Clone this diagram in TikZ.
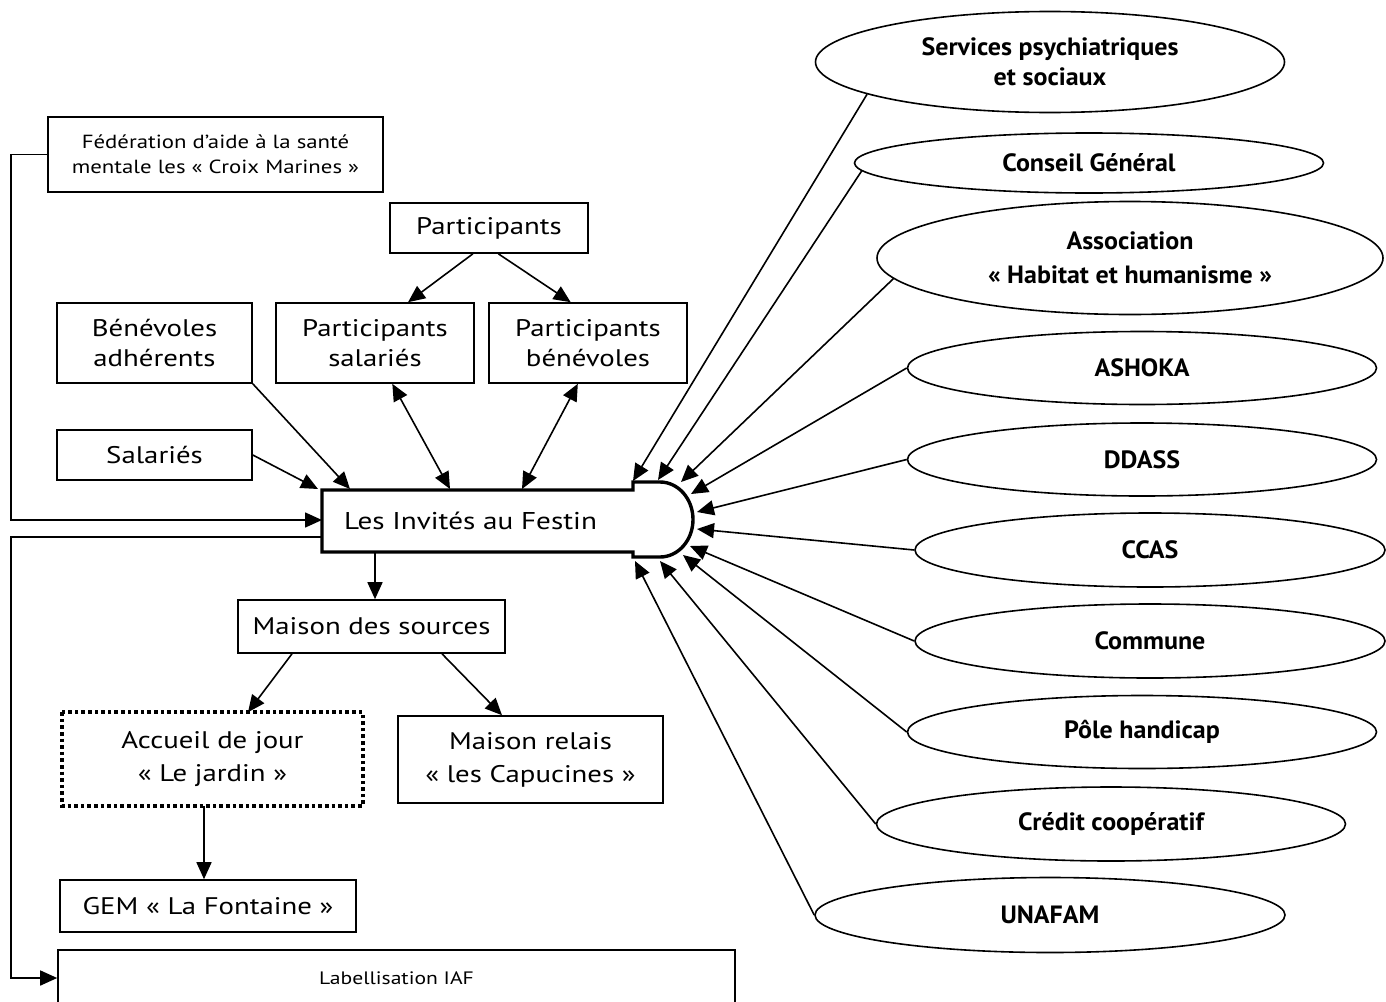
\documentclass[tikz,border=0pt]{standalone}
\usepackage{fontspec}
\setmainfont{PT Sans}
\newfontfamily\bxf[FakeStretch=1.2]{PT Sans}
\newfontfamily\elf[FakeStretch=1.04]{PT Sans}
\usetikzlibrary{arrows.meta,shapes.geometric}
\begin{document}
\begin{tikzpicture}[x=1pt,y=-1pt,
  box/.style={draw, line width=1.6pt, inner sep=0pt, align=center, font=\bxf\fontsize{24}{30}\selectfont},
  ell/.style={draw, ellipse, line width=1.6pt, inner sep=0pt, align=center, font=\elf\bfseries\fontsize{25}{30}\selectfont},
  arr/.style={line width=1.6pt, -{Triangle[length=17pt,width=15pt]}},
  darr/.style={line width=1.6pt, {Triangle[length=17pt,width=15pt]}-{Triangle[length=17pt,width=15pt]}},
  link/.style={line width=1.6pt}]
\useasboundingbox (0,0) rectangle (1386,1001);
\fill[white] (0,0) rectangle (1386,1001);
\clip (0,0) rectangle (1386,1001);

% ---------- left boxes ----------
\node[box, minimum width=335pt, minimum height=75pt, font=\bxf\fontsize{19}{25}\selectfont] (fed) at (215.5,154.5) {Fédération d’aide à la santé\\mentale les « Croix Marines »};
\node[box, minimum width=198pt, minimum height=50pt] (part) at (489,228) {Participants};
\node[box, minimum width=195pt, minimum height=80pt] (benad) at (154.5,343) {Bénévoles\\adhérents};
\node[box, minimum width=198pt, minimum height=80pt] (psal) at (375,343) {Participants\\salariés};
\node[box, minimum width=198pt, minimum height=80pt] (pben) at (588,343) {Participants\\bénévoles};
\node[box, minimum width=195pt, minimum height=50pt] (sal) at (154.5,455) {Salariés};

% ---------- central node ----------
\draw[line width=3.4pt, line join=miter] (322,490) -- (633,490) -- (633,482) -- (660,482)
  arc[start angle=90, end angle=-90, x radius=33pt, y radius=37.5pt]
  -- (633,557) -- (633,552) -- (322,552) -- cycle;
\node[anchor=west, inner sep=0pt, font=\bxf\fontsize{24.3}{30}\selectfont] (iaf) at (344,521) {Les Invités au Festin};
\coordinate (iafL1) at (322,520);
\coordinate (iafL2) at (322,537);
\coordinate (iafB) at (375,552);
\coordinate (tA) at (318,489);
\coordinate (tB) at (350,489);
\coordinate (tC) at (450,489);
\coordinate (tD) at (522,489);
\coordinate (t1) at (633,481);
\coordinate (t2) at (658,480);
\coordinate (t3) at (681,482);
\coordinate (t4) at (691,494);
\coordinate (t5) at (697,512);
\coordinate (t6) at (697,529);
\coordinate (t7) at (690,546);
\coordinate (t8) at (683,555);
\coordinate (t9) at (660,561);
\coordinate (t10) at (635,561);

% ---------- lower boxes ----------
\node[box, minimum width=267pt, minimum height=53pt] (maison) at (371.5,626.5) {Maison des sources};
\node[box, draw=none, minimum width=299pt, minimum height=92pt, font=\bxf\fontsize{24}{33}\selectfont] (accueil) at (212.5,759) {Accueil de jour\\« Le jardin »};
\draw[line width=3.6pt, dash pattern=on 3.6pt off 3pt] (accueil.north west) rectangle (accueil.south east);
\node[box, minimum width=265pt, minimum height=87pt, font=\bxf\fontsize{24}{33}\selectfont] (relais) at (530.5,759.5) {Maison relais\\« les Capucines »};
\node[box, minimum width=296pt, minimum height=52pt] (gem) at (208,906) {GEM « La Fontaine »};
\node[box, minimum width=677pt, minimum height=56pt, font=\bxf\fontsize{18}{22}\selectfont] (label) at (396.5,978) {Labellisation IAF};

% ---------- ellipses ----------
\node[ell, minimum width=469pt, minimum height=101pt] (e1) at (1050,62) {Services psychiatriques\\et sociaux};
\node[ell, minimum width=469pt, minimum height=60pt] (e2) at (1089,163) {Conseil Général};
\node[ell, minimum width=506pt, minimum height=113pt, font=\elf\bfseries\fontsize{25}{34}\selectfont] (e3) at (1130,258) {Association\\« Habitat et humanisme »};
\node[ell, minimum width=469pt, minimum height=73pt] (e4) at (1142,368) {ASHOKA};
\node[ell, minimum width=469pt, minimum height=73pt] (e5) at (1142,459.5) {DDASS};
\node[ell, minimum width=470pt, minimum height=74pt] (e6) at (1150,550) {CCAS};
\node[ell, minimum width=470pt, minimum height=74pt] (e7) at (1150,641) {Commune};
\node[ell, minimum width=469pt, minimum height=73pt] (e8) at (1142,732) {Pôle handicap};
\node[ell, minimum width=469pt, minimum height=74pt] (e9) at (1111,824) {Crédit coopératif};
\node[ell, minimum width=470pt, minimum height=75pt] (e10) at (1050,915) {UNAFAM};

% ---------- connectors ----------
\draw[arr] (fed.west) -- ++(-36,0) |- (iafL1);
\draw[arr] (iafL2) -- (11,537) |- (label.west);
\draw[arr] (part.-122) -- (psal.51);
\draw[arr] (part.-70) -- (pben.113);
\draw[arr] (benad.south east) -- (tB);
\draw[arr] (sal.east) -- (tA);
\draw[darr] (psal.-67) -- (tC);
\draw[darr] (pben.-104) -- (tD);
\draw[arr] (iafB) -- (iafB |- maison.north);
\draw[arr] ([xshift=-79.5pt]maison.south) -- ([xshift=35.5pt]accueil.north);
\draw[arr] ([xshift=70.5pt]maison.south) -- ([xshift=-28.5pt]relais.north);
\draw[arr] ([xshift=-8.5pt]accueil.south) -- ([xshift=-4pt]gem.north);

\draw[arr] (e1.190) -- (t1);
\draw[arr] (e2.182) -- (t2);
\draw[arr] (e3.185) -- (t3);
\draw[arr] (e4.west) -- (t4);
\draw[arr] (e5.west) -- (t5);
\draw[arr] (e6.west) -- (t6);
\draw[arr] (e7.west) -- (t7);
\draw[arr] (e8.west) -- (t8);
\draw[arr] (e9.west) -- (t9);
\draw[arr] (e10.west) -- (t10);
\end{tikzpicture}
\end{document}
